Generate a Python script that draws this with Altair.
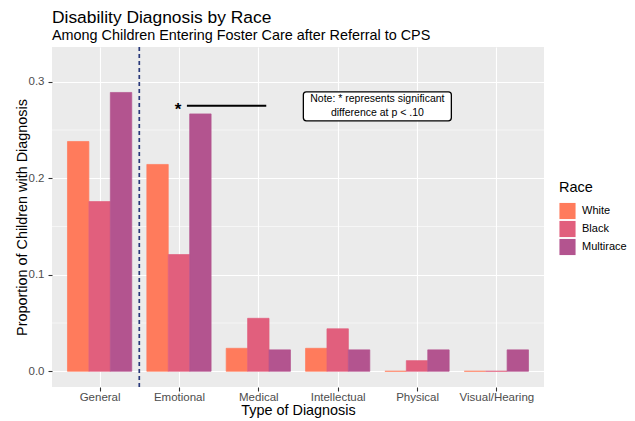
import json
import altair as alt
import pandas as pd

categories = ["General", "Emotional", "Medical", "Intellectual", "Physical", "Visual/Hearing"]
races = ["White", "Black", "Multirace"]
white = [0.2381, 0.2143, 0.0238, 0.0238, 0.0, 0.0]
black = [0.1758, 0.1209, 0.0549, 0.0440, 0.0110, 0.0]
multirace = [0.2889, 0.2667, 0.0222, 0.0222, 0.0222, 0.0222]
colors = ["#FF7B5C", "#E15F7D", "#B3548F"]

major_y = [0.0, 0.1, 0.2, 0.3]
minor_y = [0.05, 0.15, 0.25]
divider_x = [1.5]
sig_star = {"x": 2.0, "y": 0.275, "label": "*"}
sig_line = {"x": 2.1, "x2": 3.1, "y": 0.275}
note = {"x": 4.5, "y": 0.2745, "lines": ["Note: * represents significant", "difference at p < .10"]}

bar_w = 0.27
rows = []
for r_i, (race, vals) in enumerate(zip(races, [white, black, multirace])):
    for c_i, (cat, v) in enumerate(zip(categories, vals)):
        center = c_i + 1 + (r_i - 1) * bar_w
        rows.append({"Type": cat, "Race": race, "value": v,
                     "x0": center - bar_w / 2, "x1": center + bar_w / 2})
df = pd.DataFrame(rows)

FONT = "Liberation Sans"
xscale = alt.Scale(domain=[0.4, 6.6], nice=False, zero=False)
yscale = alt.Scale(domain=[-0.0163, 0.336], nice=False, zero=False)
label_expr = json.dumps(categories) + "[datum.value - 1]"

color_scale = alt.Scale(domain=races, range=colors)

bars = alt.Chart(df).mark_bar(strokeWidth=0.7).encode(
    x=alt.X("x0:Q", scale=xscale,
            axis=alt.Axis(values=list(range(1, 7)), labelExpr=label_expr,
                          title="Type of Diagnosis", grid=True)),
    x2="x1:Q",
    y=alt.Y("value:Q", scale=yscale,
            axis=alt.Axis(values=major_y, format=".1f",
                          title="Proportion of Children with Diagnosis", grid=True,
                          titleX=-30, titleBaseline="middle")),
    y2=alt.datum(0),
    color=alt.Color("Race:N", scale=color_scale, sort=races,
                    legend=alt.Legend(title="Race", orient="none", legendX=507, legendY=134,
                                      symbolType="square", symbolSize=260, symbolStrokeWidth=0,
                                      rowPadding=1, labelOffset=6, titlePadding=7,
                                      labelFontSize=11, titleFontSize=14.5,
                                      labelFont=FONT, titleFont=FONT,
                                      titleFontWeight="normal", labelColor="#000000",
                                      titleColor="#000000")),
    stroke=alt.Stroke("Race:N", scale=color_scale, legend=None),
)

minor = alt.Chart(pd.DataFrame({"y": minor_y})).mark_rule(color="white", strokeWidth=0.55).encode(
    y=alt.Y("y:Q", scale=yscale)
)

vline = alt.Chart(pd.DataFrame({"x": divider_x})).mark_rule(
    color="#29397A", strokeWidth=1.7, strokeDash=[4, 3]
).encode(x=alt.X("x:Q", scale=xscale))

seg = alt.Chart(pd.DataFrame([sig_line])).mark_rule(color="black", strokeWidth=2).encode(
    x=alt.X("x:Q", scale=xscale), x2="x2:Q", y=alt.Y("y:Q", scale=yscale)
)

star = alt.Chart(pd.DataFrame([sig_star])).mark_text(
    font=FONT, fontSize=17, fontWeight="bold", baseline="middle", align="center", dx=-1, dy=4
).encode(x=alt.X("x:Q", scale=xscale), y=alt.Y("y:Q", scale=yscale), text="label:N")

note_df = pd.DataFrame([{"x": note["x"], "y": note["y"], "t": "\n".join(note["lines"])}])
box = alt.Chart(note_df).mark_rect(
    width=148, height=29, fill="white", stroke="black", strokeWidth=1.3, cornerRadius=3
).encode(x=alt.X("x:Q", scale=xscale), y=alt.Y("y:Q", scale=yscale))
note_text = alt.Chart(note_df).mark_text(
    font=FONT, fontSize=10.5, align="center", baseline="middle", lineBreak="\n", lineHeight=14,
    color="black", dy=-7
).encode(x=alt.X("x:Q", scale=xscale), y=alt.Y("y:Q", scale=yscale), text="t:N")

chart = alt.layer(minor, bars, vline, seg, star, box, note_text).properties(
    width=492, height=340,
    autosize=alt.AutoSizeParams(type="none"),
    padding={"left": 44, "top": 39, "right": 83, "bottom": 34},
    title=alt.Title("Disability Diagnosis by Race",
                    subtitle="Among Children Entering Foster Care after Referral to CPS",
                    anchor="start", frame="group", font=FONT, fontSize=17.4,
                    fontWeight="normal", color="#000000", subtitleFont=FONT,
                    subtitleFontSize=14.4, subtitleColor="#000000", subtitlePadding=2,
                    offset=4),
).configure_view(fill="#EBEBEB", strokeWidth=0).configure_axis(
    gridColor="white", gridWidth=1.1, domain=False, tickColor="#333333", tickSize=4,
    tickWidth=1.1, labelColor="#4D4D4D", labelFont=FONT, labelFontSize=11.5,
    titleFont=FONT, titleFontSize=14.4, titleFontWeight="normal", titleColor="#000000",
).configure_axisY(labelPadding=4).configure_axisX(titlePadding=1, labelPadding=0)

chart.save("out.html", embed_options={"renderer": "svg", "actions": False})
